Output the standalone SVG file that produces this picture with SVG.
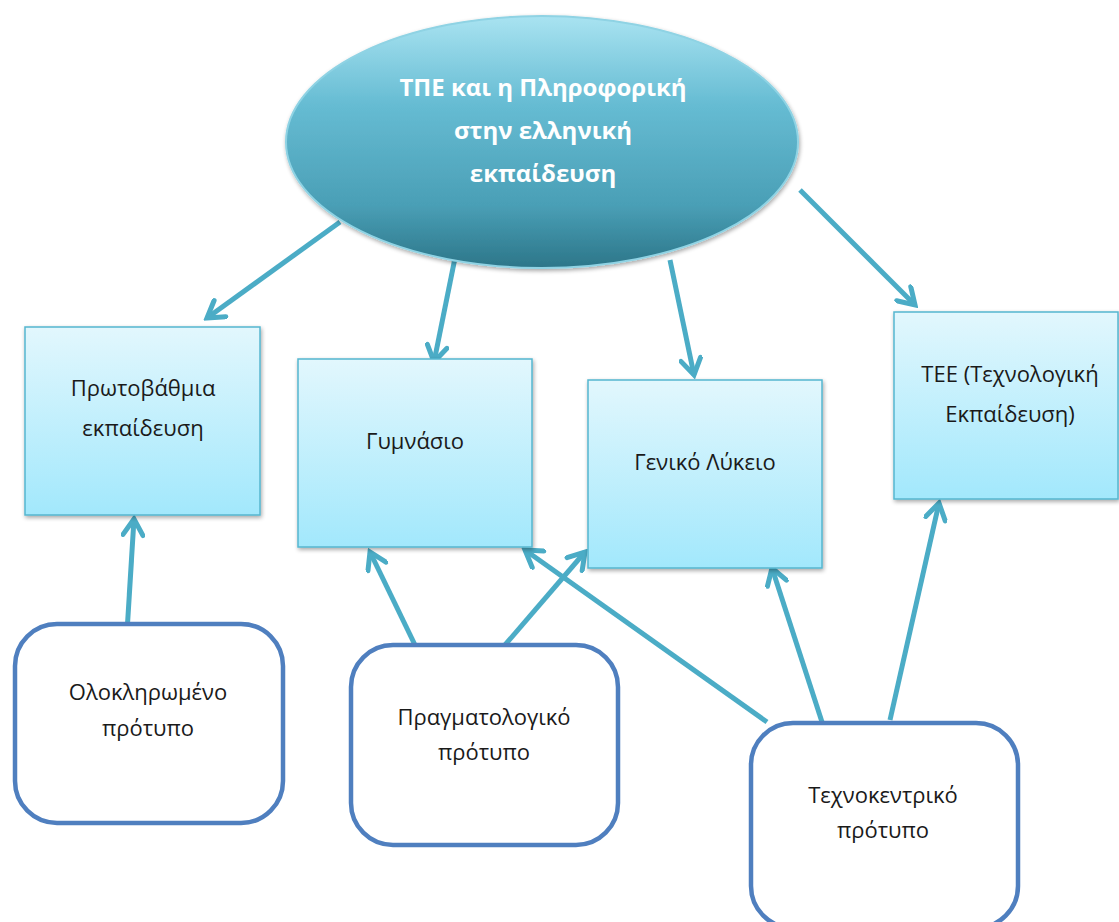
<svg xmlns="http://www.w3.org/2000/svg" width="1119" height="922" viewBox="0 0 1119 922">
<defs>
  <linearGradient id="gEll" x1="0" y1="0" x2="0" y2="1">
    <stop offset="0" stop-color="#a9e3f1"/>
    <stop offset="0.35" stop-color="#66bcd3"/>
    <stop offset="0.75" stop-color="#4a9fb6"/>
    <stop offset="1" stop-color="#2c7689"/>
  </linearGradient>
  <linearGradient id="gBox" x1="0" y1="0" x2="0" y2="1">
    <stop offset="0" stop-color="#e2f7fd"/>
    <stop offset="1" stop-color="#a2e8fc"/>
  </linearGradient>
  <filter id="sh" x="-10%" y="-10%" width="130%" height="130%">
    <feGaussianBlur in="SourceAlpha" stdDeviation="2"/>
    <feOffset dx="1" dy="2"/>
    <feComponentTransfer><feFuncA type="linear" slope="0.35"/></feComponentTransfer>
    <feMerge><feMergeNode/><feMergeNode in="SourceGraphic"/></feMerge>
  </filter>
  <marker id="arr" viewBox="0 0 24 24" refX="20" refY="12" markerWidth="24" markerHeight="24" markerUnits="userSpaceOnUse" orient="auto">
    <path d="M4,2 L20,12 L4,22" fill="none" stroke="#4bacc6" stroke-width="5" stroke-linecap="round" stroke-linejoin="miter"/>
  </marker>
</defs>
<style>
  .con { stroke: #4bacc6; stroke-width: 5; fill: none; marker-end: url(#arr); }
  .box { fill: url(#gBox); stroke: #56b6cf; stroke-width: 1.5; filter: url(#sh); }
  .rbox { fill: #ffffff; stroke: #4f7fbf; stroke-width: 4.5; }
  .t { font-family: "Open Sans", "Noto Sans", sans-serif; font-size: 22px; fill: #1a1a1a; text-anchor: middle; }
  .th { font-family: "Open Sans", "Noto Sans", sans-serif; font-size: 24px; font-weight: bold; fill: #ffffff; text-anchor: middle; }
</style>
<rect width="1119" height="922" fill="#ffffff"/>

<g id="connectors">
  <line class="con" x1="340" y1="222" x2="207" y2="318"/>
  <line class="con" x1="455" y1="258" x2="434" y2="362"/>
  <line class="con" x1="670" y1="260" x2="694" y2="375"/>
  <line class="con" x1="800" y1="190" x2="915" y2="305"/>
  <line class="con" x1="127" y1="632" x2="134" y2="519"/>
  <line class="con" x1="415" y1="645" x2="370" y2="552"/>
  <line class="con" x1="505" y1="645" x2="585" y2="552"/>
  <line class="con" x1="767" y1="722" x2="525" y2="550"/>
  <line class="con" x1="822" y1="722" x2="772" y2="568"/>
  <line class="con" x1="890" y1="720" x2="939" y2="503"/>
</g>

<g id="n-top">
  <ellipse cx="542" cy="142" rx="256" ry="126" fill="url(#gEll)" stroke="#8fd3e4" stroke-width="2" filter="url(#sh)"/>
  <text class="th" x="543" y="96">ΤΠΕ και η Πληροφορική</text>
  <text class="th" x="543" y="139">στην ελληνική</text>
  <text class="th" x="543" y="182">εκπαίδευση</text>
</g>

<g id="n-primary">
  <rect class="box" x="25" y="327" width="235" height="188"/>
  <text class="t" x="143" y="396">Πρωτοβάθμια</text>
  <text class="t" x="143" y="436">εκπαίδευση</text>
</g>
<g id="n-gymnasio">
  <rect class="box" x="298" y="359" width="234" height="188"/>
  <text class="t" x="415" y="449">Γυμνάσιο</text>
</g>
<g id="n-lykeio">
  <rect class="box" x="588" y="380" width="234" height="188"/>
  <text class="t" x="705" y="470">Γενικό Λύκειο</text>
</g>
<g id="n-tee">
  <rect class="box" x="894" y="312" width="224" height="187"/>
  <text class="t" x="1010" y="382">ΤΕΕ (Τεχνολογική</text>
  <text class="t" x="1010" y="422">Εκπαίδευση)</text>
</g>

<g id="n-integrated">
  <rect class="rbox" x="15" y="624" width="268" height="199" rx="42"/>
  <text class="t" x="148" y="700">Ολοκληρωμένο</text>
  <text class="t" x="148" y="736">πρότυπο</text>
</g>
<g id="n-pragmatic">
  <rect class="rbox" x="351" y="645" width="267" height="200" rx="42"/>
  <text class="t" x="484" y="725">Πραγματολογικό</text>
  <text class="t" x="484" y="760">πρότυπο</text>
</g>
<g id="n-techno">
  <rect class="rbox" x="751" y="723" width="267" height="205" rx="42"/>
  <text class="t" x="883" y="803">Τεχνοκεντρικό</text>
  <text class="t" x="883" y="838">πρότυπο</text>
</g>
</svg>
